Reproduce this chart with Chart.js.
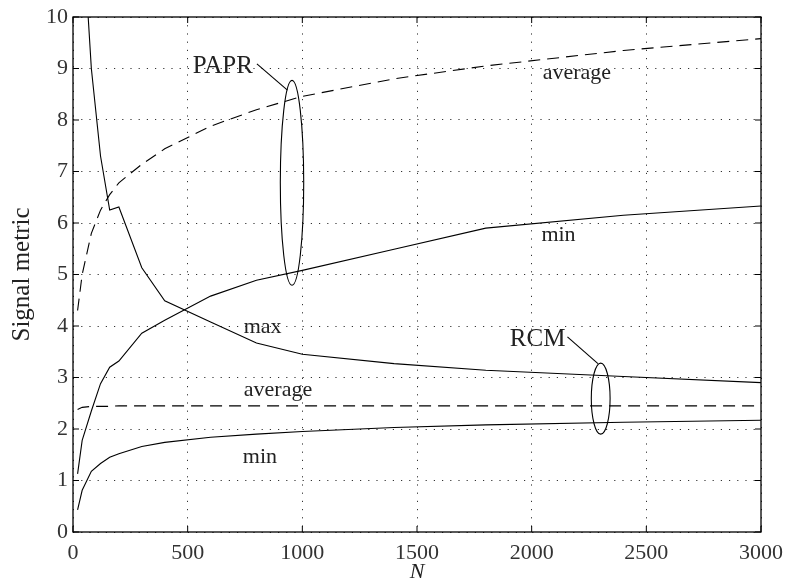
<!DOCTYPE html>
<html>
<head>
<meta charset="utf-8">
<script src="https://cdn.jsdelivr.net/npm/chart.js@4.4.1/dist/chart.umd.min.js"></script>
<style>
  html, body { margin: 0; padding: 0; background: #fff; }
</style>
</head>
<body>
<canvas id="metricChart" width="786" height="583"></canvas>
<script>
// block lengths and signal metrics
var N = [20, 40, 80, 120, 160, 200, 300, 400, 600, 800, 1000, 1400, 1800, 2400, 3000];
var paprAverage = [4.3, 5.0, 5.8, 6.25, 6.55, 6.78, 7.14, 7.44, 7.88, 8.2, 8.46, 8.8, 9.05, 9.35, 9.58];
var paprMin = [1.13, 1.78, 2.35, 2.88, 3.2, 3.32, 3.86, 4.11, 4.58, 4.89, 5.08, 5.49, 5.9, 6.15, 6.33];
var rcmMax = [null, 11.9, 9.0, 7.3, 6.25, 6.31, 5.13, 4.49, 4.08, 3.67, 3.45, 3.27, 3.14, 3.02, 2.9];
var rcmAverage = [2.38, 2.42, 2.44, 2.44, 2.44, 2.45, 2.45, 2.45, 2.45, 2.45, 2.45, 2.45, 2.45, 2.45, 2.45];
var rcmMin = [0.43, 0.81, 1.18, 1.33, 1.45, 1.52, 1.66, 1.74, 1.84, 1.9, 1.95, 2.03, 2.08, 2.13, 2.17];

var xTicks = [0, 500, 1000, 1500, 2000, 2500, 3000];
var yTicks = [0, 1, 2, 3, 4, 5, 6, 7, 8, 9, 10];

// curve labels, in data units (n, value at text baseline)
var labels = [
    { text: 'PAPR', n: 653, v: 8.91, size: 25 },
    { text: 'RCM', n: 2026, v: 3.61, size: 25 },
    { text: 'average', n: 2197, v: 8.79, size: 22 },
    { text: 'min', n: 2117, v: 5.65, size: 22 },
    { text: 'max', n: 827, v: 3.86, size: 22 },
    { text: 'average', n: 894, v: 2.635, size: 22 },
    { text: 'min', n: 815, v: 1.34, size: 22 }
];
// group ellipses: centre and half extents
var ellipses = [
    { n: 955, v: 6.78, dn: 51, dv: 1.99 },
    { n: 2301, v: 2.59, dn: 41, dv: 0.69 }
];
// leader lines from a group name to its ellipse
var leaders = [
    [802, 9.09, 935, 8.58],
    [2156, 3.79, 2289, 3.27]
];

var SERIF = '"Liberation Serif", "DejaVu Serif", serif';

function points(ys) {
    return N.map(function (n, i) { return { x: n, y: ys[i] }; });
}

function line(ys, dashed) {
    return {
        data: points(ys),
        borderColor: '#000',
        borderWidth: 1.1,
        borderDash: dashed ? [12, 7] : [],
        pointRadius: 0,
        tension: 0,
        fill: false
    };
}

var decorations = {
    id: 'decorations',
    afterDatasetsDraw: function (chart) {
        var ctx = chart.ctx;
        var xs = chart.scales.x, ys = chart.scales.y, a = chart.chartArea;
        ctx.save();
        ctx.strokeStyle = '#000';
        ctx.lineWidth = 1.1;

        ellipses.forEach(function (e) {
            var cx = xs.getPixelForValue(e.n), cy = ys.getPixelForValue(e.v);
            var rx = Math.abs(xs.getPixelForValue(e.n + e.dn) - cx);
            var ry = Math.abs(ys.getPixelForValue(e.v + e.dv) - cy);
            ctx.beginPath();
            ctx.ellipse(cx, cy, rx, ry, 0, 0, 2 * Math.PI);
            ctx.stroke();
        });

        leaders.forEach(function (l) {
            ctx.beginPath();
            ctx.moveTo(xs.getPixelForValue(l[0]), ys.getPixelForValue(l[1]));
            ctx.lineTo(xs.getPixelForValue(l[2]), ys.getPixelForValue(l[3]));
            ctx.stroke();
        });

        ctx.fillStyle = '#222';
        ctx.textAlign = 'center';
        ctx.textBaseline = 'alphabetic';
        labels.forEach(function (t) {
            ctx.font = t.size + 'px ' + SERIF;
            ctx.fillText(t.text, xs.getPixelForValue(t.n), ys.getPixelForValue(t.v));
        });

        // axes box with inward ticks on every side
        ctx.lineWidth = 1.3;
        ctx.strokeRect(a.left, a.top, a.right - a.left, a.bottom - a.top);
        ctx.lineWidth = 1;
        ctx.beginPath();
        xTicks.forEach(function (t) {
            var px = xs.getPixelForValue(t);
            ctx.moveTo(px, a.bottom); ctx.lineTo(px, a.bottom - 6);
            ctx.moveTo(px, a.top); ctx.lineTo(px, a.top + 6);
        });
        yTicks.forEach(function (t) {
            var py = ys.getPixelForValue(t);
            ctx.moveTo(a.left, py); ctx.lineTo(a.left + 6, py);
            ctx.moveTo(a.right, py); ctx.lineTo(a.right - 6, py);
        });
        ctx.stroke();
        ctx.restore();
    }
};

document.addEventListener('DOMContentLoaded', function () {
    var ctx = document.getElementById('metricChart').getContext('2d');
    var grid = {
        color: '#333',
        lineWidth: 1,
        drawTicks: false
    };
    var border = { display: false, dash: [1.2, 7] };
    var plain = function (v) { return String(v); };

    new Chart(ctx, {
        type: 'line',
        data: {
            datasets: [
                line(paprAverage, true),
                line(paprMin, false),
                line(rcmMax, false),
                line(rcmAverage, true),
                line(rcmMin, false)
            ]
        },
        options: {
            responsive: false,
            animation: false,
            layout: { padding: { top: 17, right: 25, bottom: 0, left: 0 } },
            plugins: {
                legend: { display: false },
                tooltip: { enabled: false }
            },
            scales: {
                x: {
                    type: 'linear',
                    min: 0,
                    max: 3000,
                    afterBuildTicks: function (s) {
                        s.ticks = xTicks.map(function (v) { return { value: v }; });
                    },
                    afterFit: function (s) {
                        s.height = 51;
                        s.paddingLeft = 0;
                        s.paddingRight = 0;
                    },
                    grid: grid,
                    border: border,
                    ticks: {
                        color: '#333',
                        padding: 8,
                        maxRotation: 0,
                        callback: plain,
                        font: { family: SERIF, size: 22 }
                    },
                    title: {
                        display: true,
                        text: 'N',
                        color: '#222',
                        padding: 0,
                        font: { family: SERIF, size: 22, style: 'italic', lineHeight: 1 }
                    }
                },
                y: {
                    min: 0,
                    max: 10,
                    afterBuildTicks: function (s) {
                        s.ticks = yTicks.map(function (v) { return { value: v }; });
                    },
                    afterFit: function (s) {
                        s.width = 73;
                        s.paddingTop = 0;
                        s.paddingBottom = 0;
                    },
                    grid: grid,
                    border: border,
                    ticks: {
                        color: '#333',
                        padding: 5,
                        callback: plain,
                        font: { family: SERIF, size: 22 }
                    },
                    title: {
                        display: true,
                        text: 'Signal metric',
                        color: '#222',
                        padding: { top: 7, bottom: 0 },
                        font: { family: SERIF, size: 25, lineHeight: 1.2 }
                    }
                }
            }
        },
        plugins: [decorations]
    });
});
</script>
</body>
</html>
